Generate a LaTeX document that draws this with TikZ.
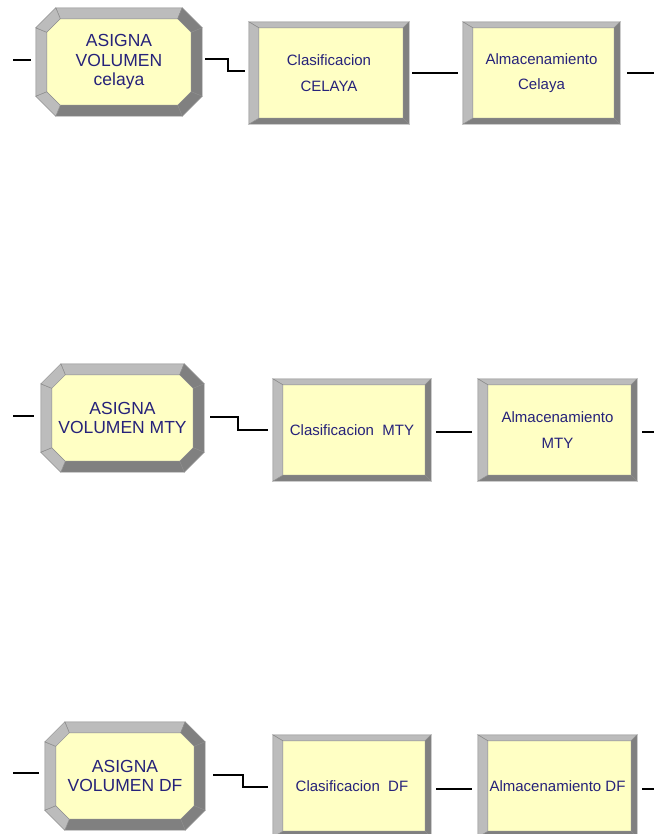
\documentclass[tikz,border=0pt]{standalone}
\usepackage{fontspec}
\setmainfont{Liberation Sans}
\usetikzlibrary{calc}
\pgfdeclarelayer{bg}
\pgfsetlayers{bg,main}
\definecolor{arenaYellow}{RGB}{255,255,196}
\definecolor{bevLight}{RGB}{188,188,188}
\definecolor{bevDark}{RGB}{128,128,128}
\definecolor{edgeGray}{RGB}{140,140,140}
\definecolor{txtBlue}{RGB}{38,34,122}

\tikzset{
  conn/.style={draw=black, line width=1.7pt},
  octnode/.style={rectangle, inner sep=0pt, text=txtBlue, align=center,
    font=\fontsize{17.5}{19.5}\selectfont, minimum height=108pt},
  procnode/.style={rectangle, inner sep=0pt, text=txtBlue, align=center,
    font=\fontsize{15}{25.5}\selectfont, minimum height=102pt},
  bevL/.style={fill=bevLight, draw=edgeGray, line width=0.5pt},
  bevD/.style={fill=bevDark, draw=edgeGray, line width=0.5pt},
}

\newcommand{\octbevel}[1]{%
\begin{pgfonlayer}{bg}
\path
 ($(#1.north west)+(20,0)$) coordinate (#1-o1)
 ($(#1.north east)+(-20,0)$) coordinate (#1-o2)
 ($(#1.north east)+(0,20)$) coordinate (#1-o3)
 ($(#1.south east)+(0,-20)$) coordinate (#1-o4)
 ($(#1.south east)+(-20,0)$) coordinate (#1-o5)
 ($(#1.south west)+(20,0)$) coordinate (#1-o6)
 ($(#1.south west)+(0,-20)$) coordinate (#1-o7)
 ($(#1.north west)+(0,20)$) coordinate (#1-o8)
 ($(#1.north west)+(24.5,11)$) coordinate (#1-i1)
 ($(#1.north east)+(-24.5,11)$) coordinate (#1-i2)
 ($(#1.north east)+(-11,24.5)$) coordinate (#1-i3)
 ($(#1.south east)+(-11,-24.5)$) coordinate (#1-i4)
 ($(#1.south east)+(-24.5,-11)$) coordinate (#1-i5)
 ($(#1.south west)+(24.5,-11)$) coordinate (#1-i6)
 ($(#1.south west)+(11,-24.5)$) coordinate (#1-i7)
 ($(#1.north west)+(11,24.5)$) coordinate (#1-i8);
\fill[arenaYellow] (#1-i1) -- (#1-i2) -- (#1-i3) -- (#1-i4) -- (#1-i5) -- (#1-i6) -- (#1-i7) -- (#1-i8) -- cycle;
\path[bevL] (#1-o1) -- (#1-o2) -- (#1-i2) -- (#1-i1) -- cycle;
\path[bevD] (#1-o2) -- (#1-o3) -- (#1-i3) -- (#1-i2) -- cycle;
\path[bevD] (#1-o3) -- (#1-o4) -- (#1-i4) -- (#1-i3) -- cycle;
\path[bevD] (#1-o4) -- (#1-o5) -- (#1-i5) -- (#1-i4) -- cycle;
\path[bevD] (#1-o5) -- (#1-o6) -- (#1-i6) -- (#1-i5) -- cycle;
\path[bevL] (#1-o6) -- (#1-o7) -- (#1-i7) -- (#1-i6) -- cycle;
\path[bevL] (#1-o7) -- (#1-o8) -- (#1-i8) -- (#1-i7) -- cycle;
\path[bevL] (#1-o8) -- (#1-o1) -- (#1-i1) -- (#1-i8) -- cycle;
\end{pgfonlayer}}

\newcommand{\procbevel}[1]{%
\begin{pgfonlayer}{bg}
\path
 (#1.north west) coordinate (#1-o1)
 (#1.north east) coordinate (#1-o2)
 (#1.south east) coordinate (#1-o3)
 (#1.south west) coordinate (#1-o4)
 ($(#1.north west)+(10,6)$) coordinate (#1-i1)
 ($(#1.north east)+(-6,6)$) coordinate (#1-i2)
 ($(#1.south east)+(-6,-6)$) coordinate (#1-i3)
 ($(#1.south west)+(10,-6)$) coordinate (#1-i4);
\fill[arenaYellow] (#1-i1) rectangle (#1-i3);
\path[bevL] (#1-o1) -- (#1-o2) -- (#1-i2) -- (#1-i1) -- cycle;
\path[bevD] (#1-o2) -- (#1-o3) -- (#1-i3) -- (#1-i2) -- cycle;
\path[bevD] (#1-o3) -- (#1-o4) -- (#1-i4) -- (#1-i3) -- cycle;
\path[bevL] (#1-o4) -- (#1-o1) -- (#1-i1) -- (#1-i4) -- cycle;
\end{pgfonlayer}}

\begin{document}
\begin{tikzpicture}[x=1pt,y=-1pt]
\begin{pgfonlayer}{bg}
\fill[white] (0,0) rectangle (654,834);
\end{pgfonlayer}
\useasboundingbox (0,0) rectangle (654,834);

% ---------- Row 1 ----------
\node[octnode, minimum width=166pt] (a1) at (119,62) {ASIGNA\\VOLUMEN\\celaya};
\node[procnode, minimum width=160pt] (c1) at (329,73) {Clasificacion\\CELAYA};
\node[procnode, minimum width=157pt] (s1) at (541.5,73) {Almacenamiento\\Celaya};
\octbevel{a1}
\procbevel{c1}
\procbevel{s1}

\coordinate (in1) at (13,60);
\coordinate (out1) at (654,73);
\draw[conn] (in1) -- ($(a1.west)+(-5,-2)$);
\draw[conn] ($(a1.east)+(3,-3)$) -- ++(23,0) |- ($(c1.west)+(-4,-2)$);
\draw[conn] ($(c1.east)+(3,0)$) -- ($(s1.west)+(-5,0)$);
\draw[conn] ($(s1.east)+(7,0)$) -- (out1);

% ---------- Row 2 ----------
\node[octnode, minimum width=163pt] (a2) at (122.5,418) {ASIGNA\\VOLUMEN MTY};
\node[procnode, minimum width=158pt] (c2) at (352,430) {Clasificacion\ \ MTY};
\node[procnode, minimum width=159pt] (s2) at (557.5,430) {Almacenamiento\\MTY};
\octbevel{a2}
\procbevel{c2}
\procbevel{s2}

\coordinate (in2) at (13,416);
\coordinate (out2) at (654,432);
\draw[conn] (in2) -- ($(a2.west)+(-7,-2)$);
\draw[conn] ($(a2.east)+(6,-1)$) -- ++(28,0) |- ($(c2.west)+(-5,0)$);
\draw[conn] ($(c2.east)+(5,2)$) -- ($(s2.west)+(-6,2)$);
\draw[conn] ($(s2.east)+(5,2)$) -- (out2);

% ---------- Row 3 ----------
\node[octnode, minimum width=160pt] (a3) at (125,776) {ASIGNA\\VOLUMEN DF};
\node[procnode, minimum width=158pt] (c3) at (352,786) {Clasificacion\ \ DF};
\node[procnode, minimum width=159pt] (s3) at (557.5,786) {Almacenamiento DF};
\octbevel{a3}
\procbevel{c3}
\procbevel{s3}

\coordinate (in3) at (13,773);
\coordinate (out3) at (654,789);
\draw[conn] (in3) -- ($(a3.west)+(-6,-3)$);
\draw[conn] ($(a3.east)+(8,-1)$) -- ++(30,0) |- ($(c3.west)+(-5,1)$);
\draw[conn] ($(c3.east)+(5,3)$) -- ($(s3.west)+(-6,3)$);
\draw[conn] ($(s3.east)+(5,3)$) -- (out3);
\end{tikzpicture}
\end{document}
